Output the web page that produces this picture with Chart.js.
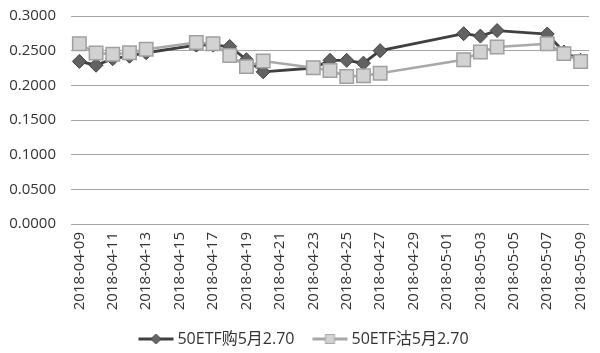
<!DOCTYPE html>
<html>
<head>
<meta charset="utf-8">
<script src="https://cdn.jsdelivr.net/npm/chart.js@4/dist/chart.umd.min.js"></script>
<style>
html,body{margin:0;padding:0;background:#fff;}
#wrap{width:600px;height:353px;position:relative;}
</style>
</head>
<body>
<div id="wrap"><canvas id="c" width="600" height="353"></canvas></div>
<script>
// Calendar axis (every day from first to last date)
const axisStart = '2018-04-09';
const axisEnd = '2018-05-09';
// Trading days
const tradeDates = ['2018-04-09','2018-04-10','2018-04-11','2018-04-12','2018-04-13',
  '2018-04-16','2018-04-17','2018-04-18','2018-04-19','2018-04-20',
  '2018-04-23','2018-04-24','2018-04-25','2018-04-26','2018-04-27',
  '2018-05-02','2018-05-03','2018-05-04','2018-05-07','2018-05-08','2018-05-09'];
const callName = '50ETF购5月2.70';
const putName = '50ETF沽5月2.70';
const callValues = [0.2345,0.2290,0.2385,0.2420,0.2470,
  0.2580,0.2580,0.2560,0.2370,0.2195,
  0.2250,0.2360,0.2360,0.2320,0.2500,
  0.2745,0.2710,0.2790,0.2740,0.2480,0.2360];
const putValues = [0.2600,0.2466,0.2447,0.2470,0.2520,
  0.2617,0.2600,0.2430,0.2270,0.2350,
  0.2253,0.2214,0.2127,0.2137,0.2175,
  0.2370,0.2480,0.2553,0.2600,0.2457,0.2345];
const yTicks = [0,0.05,0.10,0.15,0.20,0.25,0.30];

function dayList(a,b){
  const out=[]; let d=new Date(a+'T00:00:00Z'); const e=new Date(b+'T00:00:00Z');
  while(d<=e){ out.push(d.toISOString().slice(0,10)); d=new Date(d.getTime()+86400000); }
  return out;
}
const calendarLabels = dayList(axisStart, axisEnd);

// legend symbol: line with marker, drawn in right part of a 56px-wide image
function legendImg(kind){
  const cv=document.createElement('canvas'); cv.width=56; cv.height=14;
  const g=cv.getContext('2d');
  const x0=19, x1=54, xm=(x0+x1)/2;
  g.lineWidth=3;
  g.strokeStyle = kind==='call' ? '#404040' : '#a8a8a8';
  g.beginPath(); g.moveTo(x0,7); g.lineTo(x1,7); g.stroke();
  if(kind==='call'){
    g.fillStyle='#666'; g.strokeStyle='#404040'; g.lineWidth=1;
    g.beginPath(); g.moveTo(xm,2); g.lineTo(xm+5,7); g.lineTo(xm,12); g.lineTo(xm-5,7); g.closePath(); g.fill(); g.stroke();
  } else {
    g.fillStyle='#d2d2d2'; g.strokeStyle='#a8a8a8'; g.lineWidth=1;
    g.fillRect(xm-4.5,2.5,9,9); g.strokeRect(xm-4.5,2.5,9,9);
  }
  return cv;
}
const imgs = {call: legendImg('call'), put: legendImg('put')};

const FONT = "'Open Sans','Noto Sans CJK SC',sans-serif";

new Chart(document.getElementById('c'), {
  type:'line',
  data:{
    labels: calendarLabels,
    datasets:[
      {label: callName, data: tradeDates.map((d,i)=>({x:d,y:callValues[i]})),
       borderColor:'#404040', borderWidth:2.8, backgroundColor:'#606060',
       pointStyle:'rectRot', pointRadius:7, pointBorderColor:'#404040', pointBorderWidth:1,
       pointBackgroundColor:'#626262', order:1, tension:0, _img:'call'},
      {label: putName, data: tradeDates.map((d,i)=>({x:d,y:putValues[i]})),
       borderColor:'#a8a8a8', borderWidth:2.5, backgroundColor:'#d0d0d0',
       pointStyle:'rect', pointRadius:9.5, pointBorderColor:'#a0a0a0', pointBorderWidth:1.5,
       pointBackgroundColor:'#d2d2d2', order:0, tension:0, _img:'put'}
    ]
  },
  options:{
    responsive:false, animation:false, devicePixelRatio:1,
    layout:{padding:{left:0,right:6,top:16,bottom:-4}},
    plugins:{
      tooltip:{enabled:false},
      legend:{
        position:'bottom',
        labels:{
          usePointStyle:true, pointStyleWidth:44, boxHeight:14,
          padding:5, color:'#333', font:{family:FONT,size:16},
          sort:(a,b)=>a.datasetIndex-b.datasetIndex,
          generateLabels:(chart)=>chart.data.datasets.map((ds,i)=>({
            text: ds.label, datasetIndex:i, pointStyle: imgs[ds._img],
            fillStyle:'#fff', strokeStyle:'#fff', lineWidth:0, fontColor:'#333'
          }))
        }
      }
    },
    scales:{
      x:{
        type:'category', offset:true,
        afterFit:(s)=>{ s.paddingRight=0; s.paddingLeft=0; s.height=102; },
        grid:{display:false, drawTicks:false},
        border:{display:false},
        ticks:{autoSkip:false, minRotation:90, maxRotation:90, padding:8, color:'#333',
          font:{family:FONT,size:15},
          callback:function(v,i){ return i%2===0 ? this.getLabelForValue(v) : ''; }}
      },
      y:{
        min:0, max:0.3,
        afterFit:(s)=>{ s.width=71; s.paddingTop=0; s.paddingBottom=0; },
        afterBuildTicks:(s)=>{ s.ticks = yTicks.map(v=>({value:v})); },
        grid:{color:'#a6a6a6', lineWidth:1, drawTicks:false},
        border:{display:false},
        ticks:{padding:15, color:'#333', font:{family:FONT,size:15},
          callback:(v)=>Number(v).toFixed(4)}
      }
    }
  }
});
</script>
</body>
</html>
